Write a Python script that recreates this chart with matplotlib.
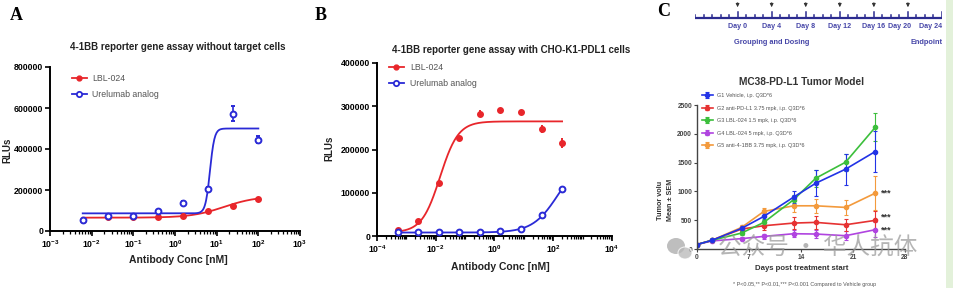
import numpy as np
import matplotlib
matplotlib.use("Agg")
import matplotlib.pyplot as plt
from matplotlib.ticker import LogLocator, NullFormatter, FixedLocator, LogFormatterSciNotation
from matplotlib.patches import Ellipse, Rectangle

plt.rcParams['font.family'] = ['Liberation Sans', 'DejaVu Sans']
plt.rcParams['mathtext.fontset'] = 'custom'
plt.rcParams['mathtext.rm'] = 'Liberation Sans:bold'
plt.rcParams['mathtext.bf'] = 'Liberation Sans:bold'
plt.rcParams['mathtext.default'] = 'rm'

# ---- Panel A: without target cells ----
a_conc = [0.0061, 0.0244, 0.0977, 0.39, 1.5625, 6.25, 25, 100]
a_lbl = [55000, 66000, 70000, 70000, 73000, 99000, 123000, 156000]
a_lbl_err = [3000, 3000, 3000, 3000, 3000, 4000, 6000, 12000]
a_ure = [53000, 73000, 73000, 99000, 138000, 206000, 573000, 446000]
a_ure_err = [4000, 4000, 4000, 5000, 6000, 8000, 35000, 15000]
# 4PL fit parameters (bottom, top, EC50, hill)
a_lbl_fit = (65000, 170000, 15, 1.1)
a_ure_fit = (86000, 500000, 6.9, 8)

# ---- Panel B: with CHO-K1-PDL1 cells ----
b_conc = [0.000512, 0.00256, 0.0128, 0.064, 0.32, 1.6, 8, 40, 200]
b_lbl = [13000, 35000, 123000, 226000, 283000, 292000, 286000, 247000, 215000]
b_lbl_err = [2000, 3000, 3000, 4000, 9000, 3000, 3000, 9000, 11000]
b_ure = [10000, 10000, 8500, 10000, 8500, 11000, 15500, 48600, 108000]
b_ure_err = [1000, 1000, 1000, 1000, 1000, 1000, 2000, 3000, 4000]
b_lbl_fit = (8000, 265000, 0.014, 1.4)
b_ure_fit = (8000, 185000, 150, 1.0)

# ---- Panel C: MC38-PD-L1 tumor model ----
days = [0, 2, 6, 9, 13, 16, 20, 24]
groups = ["G1 Vehicle, i.p. Q3D*6",
          "G2 anti-PD-L1 3.75 mpk, i.p. Q3D*6",
          "G3 LBL-024 1.5 mpk, i.p. Q3D*6",
          "G4 LBL-024 5 mpk, i.p. Q3D*6",
          "G5 anti-4-1BB 3.75 mpk, i.p. Q3D*6"]
g1 = [78, 150, 358, 566, 900, 1143, 1386, 1692]
g1_err = [10, 20, 40, 60, 100, 230, 270, 350]
g2 = [78, 150, 346, 404, 450, 462, 421, 497]
g2_err = [10, 20, 50, 70, 110, 110, 100, 160]
g3 = [78, 150, 277, 462, 855, 1230, 1507, 2113]
g3_err = [10, 20, 40, 60, 80, 150, 150, 245]
g4 = [78, 140, 180, 219, 265, 260, 231, 335]
g4_err = [10, 15, 30, 50, 60, 70, 80, 130]
g5 = [78, 150, 375, 652, 750, 750, 722, 970]
g5_err = [10, 20, 40, 60, 110, 120, 130, 290]
star_groups = [4, 1, 3]

timeline_days = list(range(-5, 25))
dose_days = [0, 4, 8, 12, 16, 20]
label_days = [0, 4, 8, 12, 16, 20, 24]

RED = '#e8262b'
BLUE = '#2a2ad6'
c_colors = ['#2233e6', '#e63232', '#3cbf3c', '#b044e0', '#f39a3c']

W, H = 954, 288
fig = plt.figure(figsize=(W / 100, H / 100), dpi=100)


def px_axes(l, t, r, b):
    return fig.add_axes([l / W, 1 - b / H, (r - l) / W, (b - t) / H])


def four_pl(x, p):
    bottom, top, ec50, hill = p
    return bottom + (top - bottom) / (1 + (ec50 / x) ** hill)


def style_dose_axes(ax):
    for s in ['top', 'right']:
        ax.spines[s].set_visible(False)
    for s in ['left', 'bottom']:
        ax.spines[s].set_linewidth(1.4)
    ax.tick_params(which='major', direction='out', length=3.5, width=1.2,
                   labelsize=6.3, pad=1.5)
    ax.tick_params(which='minor', direction='out', length=2, width=0.9)
    for lab in ax.get_yticklabels() + ax.get_xticklabels():
        lab.set_fontweight('bold')


def dose_panel(ax, conc, lbl, lbl_err, ure, ure_err, lbl_fit, ure_fit):
    xs = np.logspace(np.log10(min(conc)), np.log10(max(conc)), 300)
    ax.plot(xs, four_pl(xs, lbl_fit), color=RED, lw=1.3, zorder=2)
    ax.plot(xs, four_pl(xs, ure_fit), color=BLUE, lw=1.3, zorder=2)
    ax.errorbar(conc, lbl, yerr=lbl_err, fmt='o', color=RED, ms=4,
                elinewidth=1.4, capsize=0, zorder=3)
    ax.errorbar(conc, ure, yerr=ure_err, fmt='o', color=BLUE, ms=4.2,
                mfc='white', mew=1.4, elinewidth=1.2, capsize=1.5, zorder=3)
    ax.set_xscale('log')
    h1, = ax.plot([], [], '-o', color=RED, ms=3.5, lw=1.3)
    h2, = ax.plot([], [], '-o', color=BLUE, ms=3.8, mfc='white', mew=1.3, lw=1.3)
    return h1, h2


# ---------------- Panel A ----------------
axA = px_axes(50, 67, 300, 231)
h1, h2 = dose_panel(axA, a_conc, a_lbl, a_lbl_err, a_ure, a_ure_err,
                    a_lbl_fit, a_ure_fit)
axA.set_xlim(1e-3, 1e3)
axA.set_ylim(0, 800000)
axA.set_yticks([0, 200000, 400000, 600000, 800000])
axA.xaxis.set_major_locator(LogLocator(base=10, numticks=10))
axA.xaxis.set_minor_locator(LogLocator(base=10, subs=np.arange(2, 10), numticks=20))
axA.xaxis.set_minor_formatter(NullFormatter())
style_dose_axes(axA)
axA.legend([h1, h2], ['LBL-024', 'Urelumab analog'], loc='upper left',
           bbox_to_anchor=(72 / W, 1 - 74 / H), bbox_transform=fig.transFigure,
           frameon=False, fontsize=6.3, handlelength=1.7, handletextpad=0.6,
           labelspacing=0.75, borderpad=0, borderaxespad=0, labelcolor='#555555')

fig.text(178 / W, 1 - 47 / H, '4-1BB reporter gene assay without target cells',
         ha='center', va='center', fontsize=7, fontweight='bold', color='#222222')
fig.text(178 / W, 1 - 260 / H, 'Antibody Conc [nM]', ha='center', va='center',
         fontsize=7.5, fontweight='bold', color='#222222')
fig.text(7 / W, 1 - 150 / H, 'RLUs', ha='center', va='center', rotation=90,
         fontsize=7, fontweight='bold', color='#222222')
fig.text(16 / W, 1 - 15 / H, 'A', ha='center', va='center', fontsize=13,
         fontweight='bold', family='Liberation Serif')

# ---------------- Panel B ----------------
axB = px_axes(377, 63, 612, 236)
h1, h2 = dose_panel(axB, b_conc, b_lbl, b_lbl_err, b_ure, b_ure_err,
                    b_lbl_fit, b_ure_fit)
axB.set_xlim(1e-4, 1e4)
axB.set_ylim(0, 400000)
axB.set_yticks([0, 100000, 200000, 300000, 400000])
axB.xaxis.set_major_locator(FixedLocator([1e-4, 1e-2, 1e0, 1e2, 1e4]))
axB.xaxis.set_minor_locator(LogLocator(base=10, subs=np.arange(1, 10), numticks=30))
axB.xaxis.set_minor_formatter(NullFormatter())
axB.xaxis.set_major_formatter(LogFormatterSciNotation())
style_dose_axes(axB)
axB.legend([h1, h2], ['LBL-024', 'Urelumab analog'], loc='upper left',
           bbox_to_anchor=(389 / W, 1 - 63 / H), bbox_transform=fig.transFigure,
           frameon=False, fontsize=6.3, handlelength=1.7, handletextpad=0.7,
           labelspacing=0.75, borderpad=0, borderaxespad=0, labelcolor='#555555')

fig.text(511 / W, 1 - 50 / H, '4-1BB reporter gene assay with CHO-K1-PDL1 cells',
         ha='center', va='center', fontsize=7, fontweight='bold', color='#222222')
fig.text(500 / W, 1 - 267 / H, 'Antibody Conc [nM]', ha='center', va='center',
         fontsize=7.5, fontweight='bold', color='#222222')
fig.text(329 / W, 1 - 148 / H, 'RLUs', ha='center', va='center', rotation=90,
         fontsize=7, fontweight='bold', color='#222222')
fig.text(321 / W, 1 - 15 / H, 'B', ha='center', va='center', fontsize=13,
         fontweight='bold', family='Liberation Serif')

# ---------------- Panel C: timeline ----------------
axT = px_axes(695, 0, 942, 48)
axT.set_xlim(-5, 24)
axT.set_ylim(48, 0)
axT.axis('off')
NAVY = '#2b2b8f'
axT.plot([-5, 24], [18, 18], color=NAVY, lw=1.6, solid_capstyle='butt')
for d in timeline_days:
    top = 12 if d in label_days else 14.5
    axT.plot([d, d], [18, top], color=NAVY, lw=1.1)
for d in dose_days:
    axT.annotate('', xy=(d, 10), xytext=(d, 0),
                 arrowprops=dict(arrowstyle='-|>', color='#333333', lw=0.7,
                                 mutation_scale=5))
# the last two day labels sit slightly left of their ticks, as in the original
label_shift = {20: -1.0, 24: -1.3}
for d in label_days:
    axT.text(d + label_shift.get(d, 0), 27, f'Day {d}', ha='center', va='center',
             fontsize=5.1, color='#4646a8', fontweight='bold')
axT.text(4, 42, 'Grouping and Dosing', ha='center', va='center', fontsize=5.3,
         color='#4646a8', fontweight='bold')
axT.text(24.1, 42, 'Endpoint', ha='right', va='center', fontsize=5.3,
         color='#4646a8', fontweight='bold', clip_on=False)
fig.text(664 / W, 1 - 12 / H, 'C', ha='center', va='center', fontsize=13,
         fontweight='bold', family='Liberation Serif')

# ---------------- Panel C: tumor growth ----------------
axC = px_axes(697, 105, 905, 249)
series = [g1, g2, g3, g4, g5]
errs = [g1_err, g2_err, g3_err, g4_err, g5_err]
handles = [None] * 5
for i in [4, 3, 1, 2, 0]:
    eb = axC.errorbar(days, series[i], yerr=errs[i], fmt='-o', color=c_colors[i],
                      ms=3, lw=1.2, elinewidth=0.8, capsize=1.5, capthick=0.8)
    handles[i] = eb
axC.set_xlim(0, 28)
axC.set_ylim(0, 2500)
axC.set_xticks([0, 7, 14, 21, 28])
axC.set_yticks([0, 500, 1000, 1500, 2000, 2500])
for s in ['top', 'right']:
    axC.spines[s].set_visible(False)
for s in ['left', 'bottom']:
    axC.spines[s].set_linewidth(1.0)
    axC.spines[s].set_color('#444444')
axC.tick_params(direction='out', length=2.5, width=0.8, labelsize=4.8, pad=1,
                colors='#444444')
for lab in axC.get_yticklabels() + axC.get_xticklabels():
    lab.set_fontweight('bold')
for gi, dy in zip(star_groups, [0, 55, 0]):
    axC.text(24.7, series[gi][-1] + dy, '***', ha='left', va='center',
             fontsize=6.5, fontweight='bold', color='#333333')

axC.legend(handles, groups, loc='upper left',
           bbox_to_anchor=(702 / W, 1 - 93 / H), bbox_transform=fig.transFigure,
           frameon=False, fontsize=4, handlelength=1.9, handletextpad=0.8,
           labelspacing=1.35, borderpad=0, borderaxespad=0, labelcolor='#555555')

fig.text(802 / W, 1 - 82 / H, 'MC38-PD-L1 Tumor Model', ha='center', va='center',
         fontsize=7.3, fontweight='bold', color='#333333')
fig.text(802 / W, 1 - 269 / H, 'Days post treatment start', ha='center',
         va='center', fontsize=5.6, fontweight='bold', color='#333333')
fig.text(661 / W, 1 - 200 / H, 'Tumor volu', ha='center', va='center',
         rotation=90, fontsize=5.2, fontweight='bold', color='#333333')
fig.text(670 / W, 1 - 200 / H, 'Mean \u00b1 SEM', ha='center', va='center',
         rotation=90, fontsize=5.2, fontweight='bold', color='#333333')
fig.text(805 / W, 1 - 284.5 / H,
         '* P<0.05,** P<0.01,*** P<0.001 Compared to Vehicle group',
         ha='center', va='center', fontsize=3.9, color='#555555')

# watermark (WeChat-style bubbles + text)
fig.patches.append(Ellipse((676 / W, 1 - 246 / H), 18 / W, 16 / H,
                           transform=fig.transFigure, facecolor='#a8a8a8',
                           edgecolor='none', alpha=0.75))
fig.patches.append(Ellipse((685 / W, 1 - 253 / H), 14 / W, 12 / H,
                           transform=fig.transFigure, facecolor='#b8b8b8',
                           edgecolor='white', lw=0.8, alpha=0.75))
fig.text(818 / W, 1 - 248 / H, '公众号 · 华人抗体', ha='center', va='center',
         fontsize=17, color='#9c9c9c', alpha=0.75,
         family=['Noto Sans CJK SC', 'DejaVu Sans'])

# light green strip at the right edge
fig.patches.append(Rectangle((946 / W, 0), 8 / W, 1, transform=fig.transFigure,
                             facecolor='#e3f1da', edgecolor='none'))

fig.savefig('out.png', dpi=100)
